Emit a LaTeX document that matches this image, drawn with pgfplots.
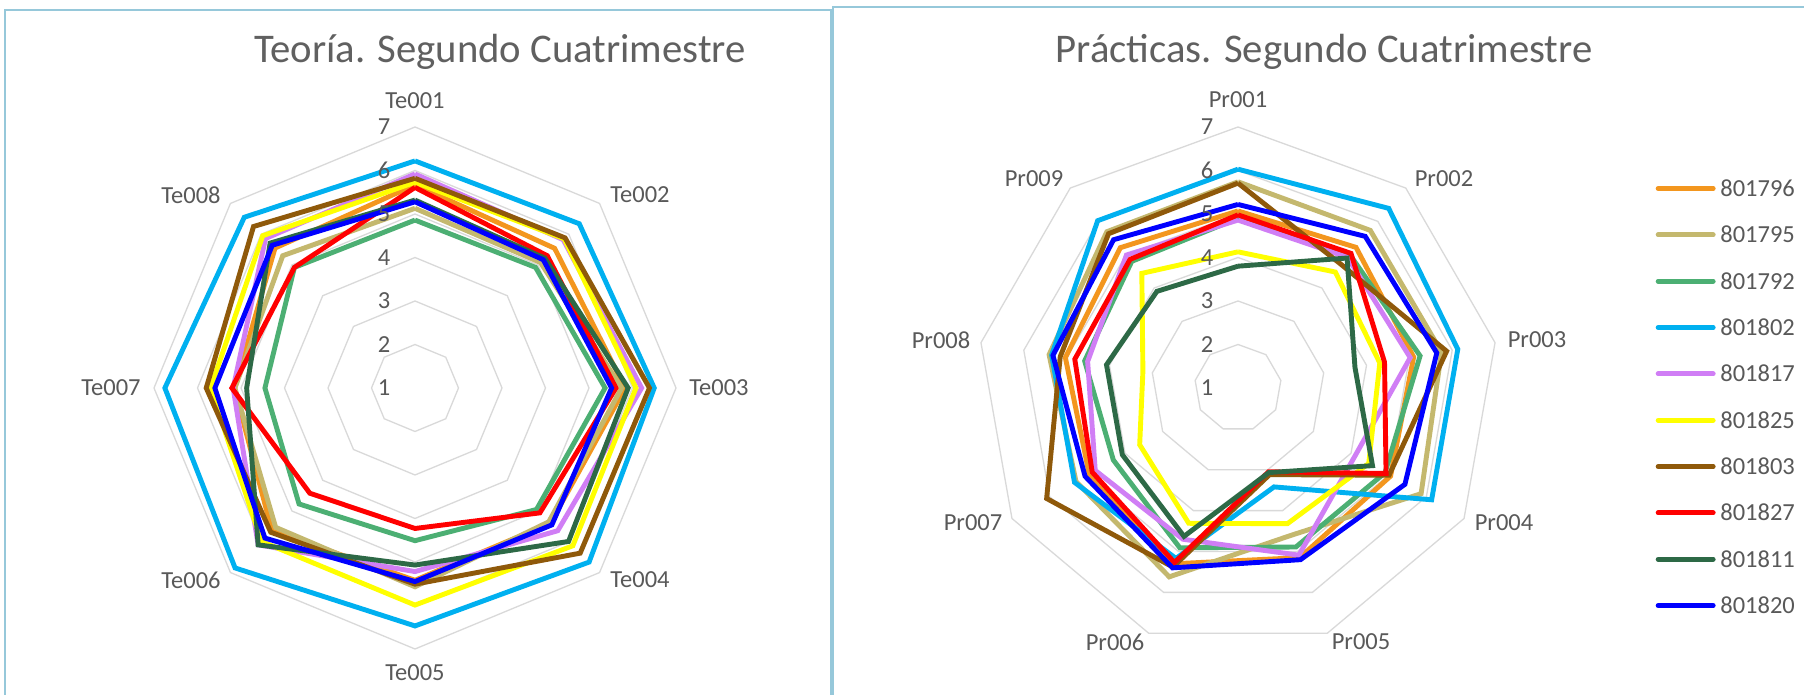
\documentclass[border=0pt]{standalone}
\usepackage{fontspec}
\setmainfont{Carlito}
\usepackage{pgfplots}
\usepackage{pgfplotstable}
\pgfplotsset{compat=1.18}
\definecolor{c1}{RGB}{243,150,30}
\definecolor{c2}{RGB}{196,184,110}
\definecolor{c3}{RGB}{76,175,115}
\definecolor{c4}{RGB}{0,176,240}
\definecolor{c5}{RGB}{208,126,245}
\definecolor{c6}{RGB}{255,255,0}
\definecolor{c7}{RGB}{143,89,10}
\definecolor{c8}{RGB}{255,0,0}
\definecolor{c9}{RGB}{45,105,70}
\definecolor{c10}{RGB}{0,0,255}
\definecolor{txt}{RGB}{89,89,89}
\definecolor{ttl}{RGB}{96,96,96}
\definecolor{gridc}{RGB}{217,217,217}
\definecolor{framec}{RGB}{150,200,218}

% Teoria: angle (deg), values of the ten students
\pgfplotstableread{
ang s1 s2 s3 s4 s5 s6 s7 s8 s9 s10
90 5.67 5.13 4.86 6.22 5.92 5.73 5.82 5.61 5.32 5.28
45 5.54 5.08 4.92 6.34 5.82 5.85 5.88 5.30 5.22 5.17
0 5.83 5.75 5.37 6.50 6.21 6.08 6.39 5.62 5.90 5.52
-45 5.40 5.35 4.95 6.66 5.64 6.13 6.37 5.06 5.99 5.45
-90 5.42 5.57 4.51 6.47 5.22 5.99 5.51 4.23 5.07 5.45
-135 5.65 5.53 4.77 6.85 6.10 5.99 5.69 4.42 6.10 5.88
180 5.15 5.14 4.45 6.75 5.18 5.70 5.80 5.21 4.87 5.60
135 5.55 5.30 4.92 6.55 5.86 5.95 6.25 4.92 5.71 5.64
90 5.67 5.13 4.86 6.22 5.92 5.73 5.82 5.61 5.32 5.28
}\teo

% Practicas
\pgfplotstableread{
ang s1 s2 s3 s4 s5 s6 s7 s8 s9 s10
90 5.07 5.74 4.90 6.03 4.86 4.13 5.71 4.98 3.80 5.22
50 5.22 5.73 5.00 6.39 4.92 4.48 4.70 5.04 4.90 5.55
10 5.10 5.75 5.25 6.13 5.02 4.31 5.87 4.42 3.73 5.64
-30 5.05 5.86 4.90 6.14 4.11 4.47 5.01 4.93 4.57 5.43
-70 5.15 4.60 4.89 3.42 5.09 4.32 3.12 3.05 3.07 5.20
-110 5.30 5.62 4.91 5.17 4.70 4.31 5.38 5.27 4.63 5.40
-150 4.95 5.30 4.31 5.34 4.79 3.61 6.08 4.87 4.07 5.06
170 5.03 5.41 4.58 5.35 4.51 3.22 5.15 4.81 4.07 5.32
130 5.21 5.69 4.80 6.02 4.99 4.44 5.63 4.86 3.90 5.45
90 5.07 5.74 4.90 6.03 4.86 4.13 5.71 4.98 3.80 5.22
}\pra

\pgfplotsset{
  radar/.style={x=21.75pt, y=21.75pt, xmin=-7, xmax=7, ymin=-7, ymax=7,
    hide axis, clip=false, anchor=origin},
  ser/.style={#1, line width=2.45pt, data cs=polar},
  grd/.style={gridc, line width=0.65pt, data cs=polar, forget plot},
}
\newcommand{\px}[2]{({#1*0.5pt},{(695-(#2))*0.5pt})}

\begin{document}
\begin{tikzpicture}[font=\fontsize{12.25pt}{14pt}\selectfont]
\useasboundingbox (0,0) rectangle (902pt,347.5pt);
\fill[white] (0,0) rectangle (902pt,347.5pt);
% panel frames
\draw[framec, line width=1pt] \px{5}{700} -- \px{5}{10} -- \px{831}{10} -- \px{831}{700};
\draw[framec, line width=1pt] \px{833}{700} -- \px{833}{7} -- \px{1815}{7};

% ---------------- Teoria ----------------
\begin{axis}[radar, at={(207.5pt,153.5pt)}]
\addplot[grd] coordinates {(90,1)(45,1)(0,1)(-45,1)(-90,1)(-135,1)(180,1)(135,1)(90,1)};
\addplot[grd] coordinates {(90,2)(45,2)(0,2)(-45,2)(-90,2)(-135,2)(180,2)(135,2)(90,2)};
\addplot[grd] coordinates {(90,3)(45,3)(0,3)(-45,3)(-90,3)(-135,3)(180,3)(135,3)(90,3)};
\addplot[grd] coordinates {(90,4)(45,4)(0,4)(-45,4)(-90,4)(-135,4)(180,4)(135,4)(90,4)};
\addplot[grd] coordinates {(90,5)(45,5)(0,5)(-45,5)(-90,5)(-135,5)(180,5)(135,5)(90,5)};
\addplot[grd] coordinates {(90,6)(45,6)(0,6)(-45,6)(-90,6)(-135,6)(180,6)(135,6)(90,6)};
\addplot[ser=c1] table[x=ang, y expr=\thisrow{s1}-1] {\teo};
\addplot[ser=c2] table[x=ang, y expr=\thisrow{s2}-1] {\teo};
\addplot[ser=c3] table[x=ang, y expr=\thisrow{s3}-1] {\teo};
\addplot[ser=c4] table[x=ang, y expr=\thisrow{s4}-1] {\teo};
\addplot[ser=c5] table[x=ang, y expr=\thisrow{s5}-1] {\teo};
\addplot[ser=c6] table[x=ang, y expr=\thisrow{s6}-1] {\teo};
\addplot[ser=c7] table[x=ang, y expr=\thisrow{s7}-1] {\teo};
\addplot[ser=c8] table[x=ang, y expr=\thisrow{s8}-1] {\teo};
\addplot[ser=c9] table[x=ang, y expr=\thisrow{s9}-1] {\teo};
\addplot[ser=c10] table[x=ang, y expr=\thisrow{s10}-1] {\teo};
\end{axis}

% ---------------- Practicas ----------------
\begin{axis}[radar, at={(619pt,153.5pt)},
  legend style={at={(1.1859,0.8422)}, anchor=north west, draw=none, fill=none,
    inner sep=0pt, outer sep=0pt, row sep=13.3pt, column sep=2.35pt,
    nodes={inner sep=0pt, text=txt, anchor=base west},
    font=\fontsize{12.25pt}{14pt}\selectfont},
  legend cell align=left,
  legend image code/.code={\draw[#1, line cap=round] (0pt,3.9pt) -- (27.5pt,3.9pt);}]
\addplot[grd] coordinates {(90,1)(50,1)(10,1)(-30,1)(-70,1)(-110,1)(-150,1)(170,1)(130,1)(90,1)};
\addplot[grd] coordinates {(90,2)(50,2)(10,2)(-30,2)(-70,2)(-110,2)(-150,2)(170,2)(130,2)(90,2)};
\addplot[grd] coordinates {(90,3)(50,3)(10,3)(-30,3)(-70,3)(-110,3)(-150,3)(170,3)(130,3)(90,3)};
\addplot[grd] coordinates {(90,4)(50,4)(10,4)(-30,4)(-70,4)(-110,4)(-150,4)(170,4)(130,4)(90,4)};
\addplot[grd] coordinates {(90,5)(50,5)(10,5)(-30,5)(-70,5)(-110,5)(-150,5)(170,5)(130,5)(90,5)};
\addplot[grd] coordinates {(90,6)(50,6)(10,6)(-30,6)(-70,6)(-110,6)(-150,6)(170,6)(130,6)(90,6)};
\addplot[ser=c1] table[x=ang, y expr=\thisrow{s1}-1] {\pra}; \addlegendentry{801796}
\addplot[ser=c2] table[x=ang, y expr=\thisrow{s2}-1] {\pra}; \addlegendentry{801795}
\addplot[ser=c3] table[x=ang, y expr=\thisrow{s3}-1] {\pra}; \addlegendentry{801792}
\addplot[ser=c4] table[x=ang, y expr=\thisrow{s4}-1] {\pra}; \addlegendentry{801802}
\addplot[ser=c5] table[x=ang, y expr=\thisrow{s5}-1] {\pra}; \addlegendentry{801817}
\addplot[ser=c6] table[x=ang, y expr=\thisrow{s6}-1] {\pra}; \addlegendentry{801825}
\addplot[ser=c7] table[x=ang, y expr=\thisrow{s7}-1] {\pra}; \addlegendentry{801803}
\addplot[ser=c8] table[x=ang, y expr=\thisrow{s8}-1] {\pra}; \addlegendentry{801827}
\addplot[ser=c9] table[x=ang, y expr=\thisrow{s9}-1] {\pra}; \addlegendentry{801811}
\addplot[ser=c10] table[x=ang, y expr=\thisrow{s10}-1] {\pra}; \addlegendentry{801820}
\end{axis}

% titles
\node[text=ttl, font=\fontsize{20.35pt}{24pt}\selectfont] at \px{500}{52} {Teoría. Segundo Cuatrimestre};
\node[text=ttl, font=\fontsize{20.35pt}{24pt}\selectfont] at \px{1324}{52} {Prácticas. Segundo Cuatrimestre};

% radial value labels
\foreach \v [count=\i from 0] in {1,...,7} {
  \node[text=txt] at \px{384}{388-43.5*\i} {\v};
  \node[text=txt] at \px{1207}{388-43.5*\i} {\v};
}
% category labels
\node[text=txt] at \px{415}{101} {Te001};
\node[text=txt] at \px{640}{195} {Te002};
\node[text=txt] at \px{719}{388} {Te003};
\node[text=txt] at \px{640}{580} {Te004};
\node[text=txt] at \px{415}{673} {Te005};
\node[text=txt] at \px{191}{580} {Te006};
\node[text=txt] at \px{111}{388} {Te007};
\node[text=txt] at \px{191}{195} {Te008};
\node[text=txt] at \px{1238}{100} {Pr001};
\node[text=txt] at \px{1444}{179} {Pr002};
\node[text=txt] at \px{1537}{340} {Pr003};
\node[text=txt] at \px{1504}{523} {Pr004};
\node[text=txt] at \px{1361}{642} {Pr005};
\node[text=txt] at \px{1115}{642} {Pr006};
\node[text=txt] at \px{973}{523} {Pr007};
\node[text=txt] at \px{941}{340} {Pr008};
\node[text=txt] at \px{1034}{179} {Pr009};
\end{tikzpicture}
\end{document}
